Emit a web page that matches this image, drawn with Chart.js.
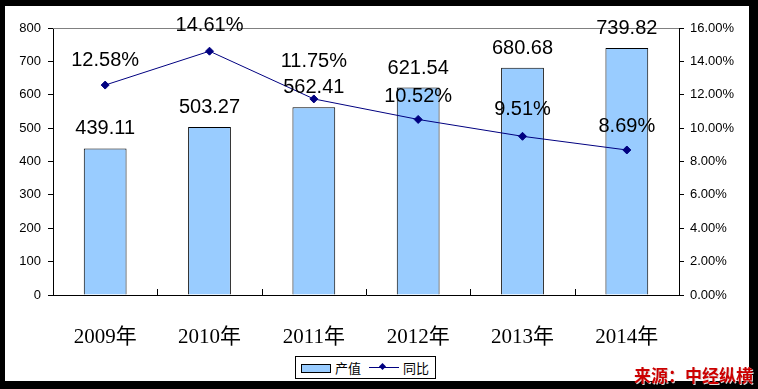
<!DOCTYPE html>
<html>
<head>
<meta charset="utf-8">
<script src="https://cdn.jsdelivr.net/npm/chart.js@4"></script>
<style>
    html, body { margin: 0; padding: 0; background: #000; }
    #wrap { position: relative; width: 758px; height: 389px; background: #000; overflow: hidden; }
    #paper { position: absolute; left: 5px; top: 6px; width: 744px; height: 375px; background: #fff; }
    #chart { position: absolute; left: 0; top: 0; }
    #legend {
        position: absolute; left: 295px; top: 356px; width: 139px; height: 21px;
        border: 1px solid #000; background: #fff;
        font: 13px "Noto Sans CJK SC", sans-serif; color: #000;
    }
    #legend .sw { position: absolute; left: 5px; top: 7px; width: 28px; height: 7px; background: #99CCFF; border: 1px solid #000; }
    #legend .t1 { position: absolute; left: 39px; top: 1px; }
    #legend .ln { position: absolute; left: 73px; top: 10px; width: 30px; height: 1px; background: #000080; }
    #legend .dm { position: absolute; left: 84px; top: 7px; width: 5px; height: 5px; background: #000080; transform: rotate(45deg); }
    #legend .t2 { position: absolute; left: 107px; top: 1px; }
    #source {
        position: absolute; right: 5px; top: 362px;
        font: bold 17px "Noto Sans CJK SC", sans-serif; color: #CC0000;
        text-shadow: 1px 1px 0 #ddd;
    }
</style>
</head>
<body>
<div id="wrap">
    <div id="paper"></div>
    <canvas id="chart" width="758" height="389"></canvas>
    <div id="legend">
        <div class="sw"></div><span class="t1">产值</span>
        <div class="ln"></div><div class="dm"></div><span class="t2">同比</span>
    </div>
    <div id="source">来源：中经纵横</div>
</div>
<script>
// Data
const categories = ['2009年', '2010年', '2011年', '2012年', '2013年', '2014年'];
const outputValues = [439.11, 503.27, 562.41, 621.54, 680.68, 739.82];
const growthRates = [12.58, 14.61, 11.75, 10.52, 9.51, 8.69];

// How far each growth label sits above its point (the 2011 one was moved up)
const growthLabelLift = [19, 20, 32, 17, 21, 18];

// Value labels, gray top border and small category ticks
const decorPlugin = {
    id: 'decor',
    beforeDatasetsDraw(chart) {
        const ctx = chart.ctx;
        const area = chart.chartArea;
        ctx.save();
        ctx.strokeStyle = '#808080';
        ctx.lineWidth = 1;
        ctx.beginPath();
        ctx.moveTo(area.left, area.top + 0.5);
        ctx.lineTo(area.right, area.top + 0.5);
        ctx.stroke();

        // category separators on the x axis, pointing up
        const xs = chart.scales.x;
        ctx.strokeStyle = '#000';
        for (let i = 1; i < categories.length; i++) {
            const x = Math.round((xs.getPixelForValue(i - 1) + xs.getPixelForValue(i)) / 2) + 0.5;
            ctx.beginPath();
            ctx.moveTo(x, area.bottom);
            ctx.lineTo(x, area.bottom - 6);
            ctx.stroke();
        }
        ctx.restore();
    },
    afterDatasetsDraw(chart) {
        const ctx = chart.ctx;
        ctx.save();
        ctx.font = '20px "Liberation Sans", Arial, sans-serif';
        ctx.fillStyle = '#000';
        ctx.textAlign = 'center';
        ctx.textBaseline = 'alphabetic';

        chart.getDatasetMeta(0).data.forEach((bar, i) => {
            ctx.fillText(outputValues[i].toFixed(2), bar.x, bar.y - 14);
        });
        chart.getDatasetMeta(1).data.forEach((pt, i) => {
            ctx.fillText(growthRates[i].toFixed(2) + '%', pt.x, pt.y - growthLabelLift[i]);
        });
        ctx.restore();
    }
};

const tickFont = { family: '"Liberation Sans", Arial, sans-serif', size: 13 };

new Chart(document.getElementById('chart'), {
    data: {
        labels: categories,
        datasets: [
            {
                type: 'bar',
                label: '产值',
                data: outputValues,
                yAxisID: 'y',
                backgroundColor: '#99CCFF',
                borderColor: '#000',
                borderWidth: 1,
                barPercentage: 0.41,
                categoryPercentage: 1,
                order: 2
            },
            {
                type: 'line',
                label: '同比',
                data: growthRates,
                yAxisID: 'y1',
                borderColor: '#000080',
                borderWidth: 1,
                pointStyle: 'rectRot',
                pointRadius: 4,
                pointBackgroundColor: '#000080',
                pointBorderColor: '#000080',
                tension: 0,
                order: 1
            }
        ]
    },
    options: {
        responsive: false,
        animation: false,
        layout: { padding: { left: 0, right: 0, top: 28, bottom: 0 } },
        plugins: {
            legend: { display: false },
            tooltip: { enabled: false }
        },
        scales: {
            x: {
                offset: true,
                grid: { display: false },
                border: { color: '#000', width: 1 },
                ticks: {
                    color: '#000',
                    padding: 22,
                    font: { family: '"Liberation Serif", "Noto Sans CJK SC", serif', size: 21 }
                },
                afterFit(scale) { scale.height = 94; }
            },
            y: {
                position: 'left',
                min: 0,
                max: 800,
                ticks: { stepSize: 100, color: '#000', padding: 7, font: tickFont },
                grid: { drawOnChartArea: false, tickLength: 5, color: '#000' },
                border: { color: '#000', width: 1 },
                afterFit(scale) { scale.width = 53; }
            },
            y1: {
                position: 'right',
                min: 0,
                max: 16,
                ticks: {
                    stepSize: 2,
                    color: '#000',
                    padding: 6,
                    font: tickFont,
                    callback: v => v.toFixed(2) + '%'
                },
                grid: { drawOnChartArea: false, tickLength: 5, color: '#000' },
                border: { color: '#000', width: 1 },
                afterFit(scale) { scale.width = 79; }
            }
        }
    },
    plugins: [decorPlugin]
});
</script>
</body>
</html>
